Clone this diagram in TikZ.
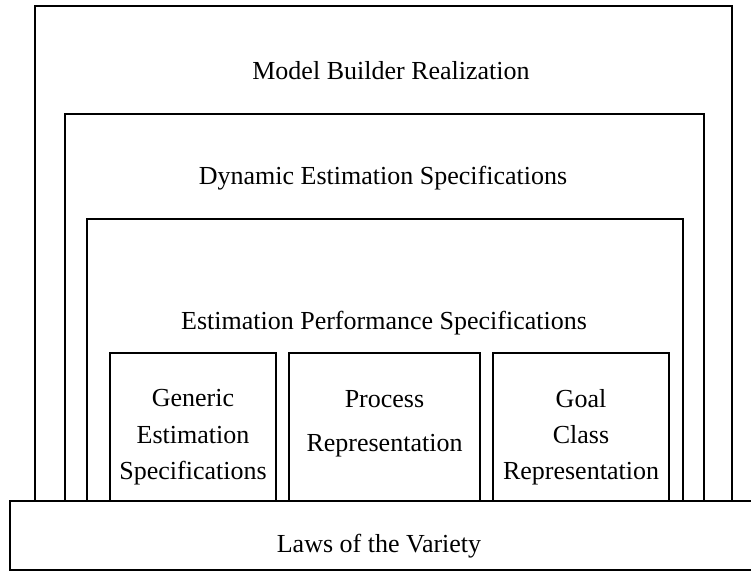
\documentclass[tikz,border=0pt]{standalone}
\usepackage{fontspec}
\setmainfont{Liberation Serif}
\tikzset{
  box/.style={draw=black, line width=1.8pt},
  lbl/.style={anchor=base, inner sep=0pt, font=\fontsize{26}{30}\selectfont},
}
\begin{document}
\begin{tikzpicture}[x=1pt,y=-1pt]
\useasboundingbox (0,0) rectangle (751,573);
% nested boxes
\draw[box] (35,6) rectangle (732,501);
\draw[box] (65,114) rectangle (704,501);
\draw[box] (87,219) rectangle (683,501);
\draw[box] (110,353) rectangle (276,501);
\draw[box] (289,353) rectangle (480,501);
\draw[box] (493,353) rectangle (669,501);
% laws box (right side runs off the picture)
\draw[box, line width=2.2pt] (751,501) -- (10,501) -- (10,570) -- (751,570);
% labels
\node[lbl] (mbr) at (391,79) {Model Builder Realization};
\node[lbl] (des) at (383,184) {Dynamic Estimation Specifications};
\node[lbl] (eps) at (384,329) {Estimation Performance Specifications};
\node[lbl] (g1) at (193,406) {Generic};
\node[lbl] (g2) at (193,443) {Estimation};
\node[lbl] (g3) at (193,479) {Specifications};
\node[lbl] (p1) at (384.5,407) {Process};
\node[lbl] (p2) at (384.5,451) {Representation};
\node[lbl] (c1) at (581,407) {Goal};
\node[lbl] (c2) at (581,443) {Class};
\node[lbl] (c3) at (581,479) {Representation};
\node[lbl] (lv) at (379,552) {Laws of the Variety};
\end{tikzpicture}
\end{document}
